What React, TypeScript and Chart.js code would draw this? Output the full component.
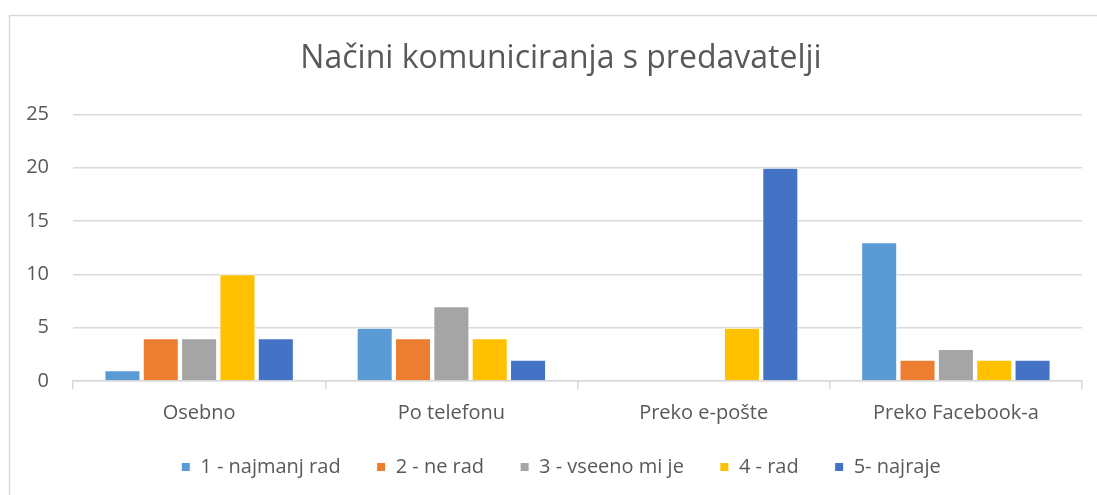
import React, { useEffect, useRef } from "react";
import { Chart, registerables } from "chart.js";

Chart.register(...registerables);

const categories = ["Osebno", "Po telefonu", "Preko e-pošte", "Preko Facebook-a"];
const seriesNames = ["1 - najmanj rad", "2 - ne rad", "3 - vseeno mi je", "4 - rad", "5- najraje"];
const s1 = [1, 5, 0, 13];
const s2 = [4, 4, 0, 2];
const s3 = [4, 7, 0, 3];
const s4 = [10, 4, 5, 2];
const s5 = [4, 2, 20, 2];
const seriesColors = ["#5B9BD5", "#ED7D31", "#A5A5A5", "#FFC000", "#4472C4"];
const yTicks = [0, 5, 10, 15, 20, 25];
const titleText = "Načini komuniciranja s predavatelji";

const FONT = "'Open Sans', 'Noto Sans', sans-serif";

const borderPlugin = {
  id: "frameBorder",
  beforeDraw(chart: any) {
    const ctx = chart.ctx;
    ctx.save();
    ctx.strokeStyle = "#d9d9d9";
    ctx.lineWidth = 1.5;
    ctx.beginPath();
    ctx.moveTo(9.5, chart.height);
    ctx.lineTo(9.5, 15.5);
    ctx.lineTo(chart.width, 15.5);
    ctx.stroke();
    ctx.restore();
  },
};

const noLabelClip = (axis: any) => {
  axis._computeLabelArea = () => undefined;
};

export default function App() {
  const ref = useRef<HTMLCanvasElement | null>(null);
  useEffect(() => {
    if (!ref.current) return;
    const all = [s1, s2, s3, s4, s5];
    const chart = new Chart(ref.current, {
      type: "bar",
      data: {
        labels: categories,
        datasets: all.map((d, i) => ({
          label: seriesNames[i],
          data: d,
          backgroundColor: seriesColors[i],
          borderColor: "#ffffff",
          borderWidth: 1,
          categoryPercentage: 0.76,
          barPercentage: 0.94,
        })),
      },
      options: {
        animation: false,
        responsive: false,
        maintainAspectRatio: false,
        layout: { padding: { left: 40, right: 15, top: 40, bottom: 8 } },
        plugins: {
          title: {
            display: true,
            text: titleText,
            color: "#595959",
            font: { family: FONT, size: 32, weight: "normal" },
            padding: { top: 0, bottom: 36 },
          },
          legend: {
            position: "bottom",
            labels: {
              boxWidth: 9,
              boxHeight: 9,
              color: "#595959",
              font: { family: FONT, size: 20 },
              padding: 36,
            },
          },
          tooltip: { enabled: false },
        },
        scales: {
          x: {
            afterFit: (axis: any) => {
              axis.height = 40;
              noLabelClip(axis);
            },
            grid: {
              display: true,
              drawOnChartArea: false,
              drawTicks: true,
              tickLength: 8,
              color: "#d9d9d9",
              lineWidth: 1.5,
              offset: true,
            },
            border: { display: true, color: "#d9d9d9", width: 1.5 },
            ticks: {
              color: "#595959",
              font: { family: FONT, size: 20 },
              padding: 12,
            },
          },
          y: {
            min: 0,
            max: 25,
            afterBuildTicks: (axis: any) => {
              axis.ticks = yTicks.map((v) => ({ value: v }));
            },
            afterFit: (axis: any) => {
              axis.width = 33;
              noLabelClip(axis);
            },
            grid: { color: "#d9d9d9", lineWidth: 1.5, drawTicks: false },
            border: { display: false },
            ticks: {
              color: "#595959",
              font: { family: FONT, size: 20 },
              padding: 24,
            },
          },
        },
      },
      plugins: [borderPlugin],
    });
    return () => chart.destroy();
  }, []);
  return (
    <div style={{ position: "absolute", left: 0, top: 0, width: 1097, height: 495, background: "#fff" }}>
      <canvas ref={ref} width={1097} height={495} style={{ display: "block" }} />
    </div>
  );
}
